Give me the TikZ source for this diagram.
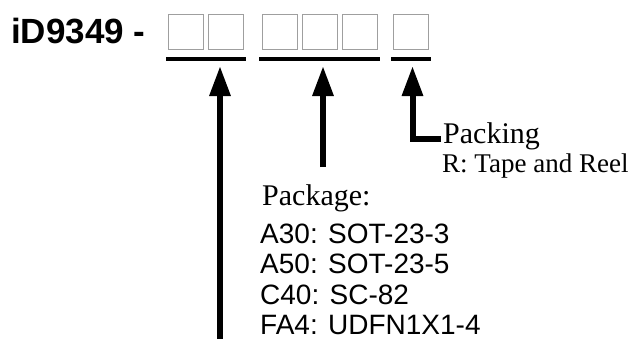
\documentclass[tikz,border=0pt]{standalone}
\usepackage{fontspec}
\setmainfont{Liberation Serif}
\newfontfamily\arialf{Liberation Sans}
\usetikzlibrary{arrows.meta}
\tikzset{
  digitbox/.style={draw=gray!75, line width=1pt, minimum width=35pt, minimum height=35pt, inner sep=0pt, anchor=north west},
  uline/.style={line width=4pt},
  arr/.style={line width=6pt, line join=miter, -{Triangle[width=20pt,length=30pt]}},
  txt/.style={inner sep=0pt, anchor=base west},
}
\begin{document}
\begin{tikzpicture}[x=1pt,y=-1pt]
\useasboundingbox (0,0) rectangle (635,338);
% title
\node[txt, font=\arialf\bfseries\fontsize{35}{40}\selectfont] (title) at (11,43) {iD9349 -};
% boxes
\node[digitbox] (b1) at (168,14) {};
\node[digitbox] (b2) at (208,14) {};
\node[digitbox] (b3) at (262,14) {};
\node[digitbox] (b4) at (302,14) {};
\node[digitbox] (b5) at (342,14) {};
\node[digitbox] (b6) at (393,14) {};
% underlines
\coordinate (u1a) at (166,59); \coordinate (u1b) at (246,59);
\coordinate (u2a) at (259,59); \coordinate (u2b) at (380,59);
\coordinate (u3a) at (391,59); \coordinate (u3b) at (431,59);
\draw[uline] (u1a) -- (u1b);
\draw[uline] (u2a) -- (u2b);
\draw[uline] (u3a) -- (u3b);
% arrow tips
\coordinate (t1) at (220,66);
\coordinate (t2) at (323,66);
\coordinate (t3) at (412.5,66);
% texts
\node[txt, font=\fontsize{30}{34}\selectfont] (packing) at (443,143) {Packing};
\node[txt, font=\fontsize{27}{31}\selectfont] (reel) at (442,172) {R: Tape and Reel};
\node[txt, font=\fontsize{30}{34}\selectfont] (package) at (262,205) {Package:};
\node[txt, font=\arialf\fontsize{28}{31}\selectfont] (l1) at (260,243) {A30: SOT-23-3};
\node[txt, font=\arialf\fontsize{28}{31}\selectfont] (l2) at (260,273.5) {A50: SOT-23-5};
\node[txt, font=\arialf\fontsize{28}{31}\selectfont] (l3) at (260,304) {C40: SC-82};
\node[txt, font=\arialf\fontsize{28}{31}\selectfont] (l4) at (260,334) {FA4: UDFN1X1-4};
% arrow bases
\coordinate (s1) at (220,340);
\coordinate (s2) at (323,167);
\coordinate (s3) at (441,139);
\draw[arr] (s1) -- (t1);
\draw[arr] (s2) -- (t2);
\draw[arr] (s3) -| (t3);
\end{tikzpicture}
\end{document}
